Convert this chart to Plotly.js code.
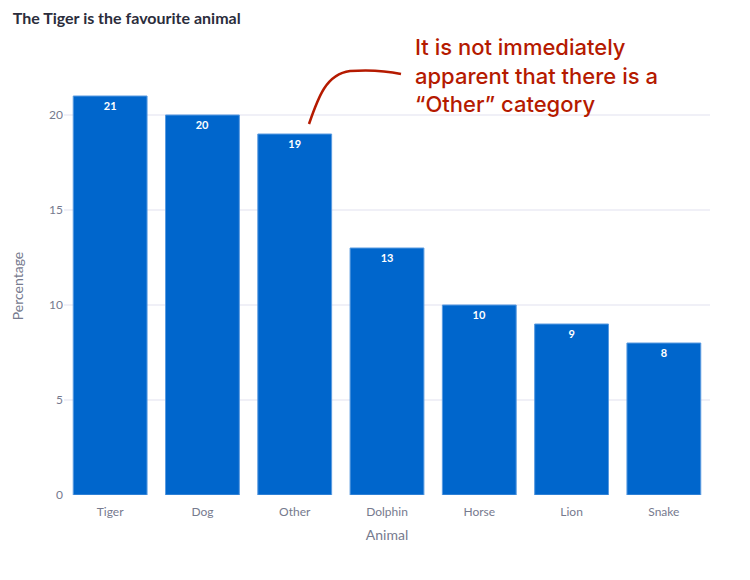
<!DOCTYPE html>
<html>
<head>
<meta charset="utf-8">
<script src="https://cdn.plot.ly/plotly-3.0.1.min.js"></script>
<style>
  html, body { margin: 0; padding: 0; background: #ffffff; }
  #chart { width: 750px; height: 580px; }
</style>
</head>
<body>
<div id="chart"></div>
<script>
// values
var animals = ['Tiger', 'Dog', 'Other', 'Dolphin', 'Horse', 'Lion', 'Snake'];
var percentages = [21, 20, 19, 13, 10, 9, 8];
var yTicks = [0, 5, 10, 15, 20];

var tickColor = '#767a8e';
var uiFont = 'Lato, "Noto Sans", sans-serif';

var bars = {
	type: 'bar',
	x: animals,
	y: percentages,
	text: percentages.map(String),
	textposition: 'inside',
	insidetextanchor: 'end',
	textangle: 0,
	textfont: { family: uiFont, size: 11, color: '#ffffff', weight: 'bold' },
	marker: {
		color: '#0066cc',
		line: { color: '#5a9be0', width: 1 }
	},
	hoverinfo: 'none',
	showlegend: false
};

// hand-drawn style arrow from the note down to the "Other" bar
function px(x) { return (x - 64) / 646; }
function py(y) { return (495 - y) / 418; }
var arrowPath = 'M ' + px(309) + ',' + py(124) +
	' C ' + px(318) + ',' + py(98) + ' ' + px(326) + ',' + py(74) + ' ' + px(350) + ',' + py(71) +
	' Q ' + px(378) + ',' + py(69) + ' ' + px(401) + ',' + py(74);

var layout = {
	width: 750,
	height: 580,
	paper_bgcolor: '#ffffff',
	plot_bgcolor: '#ffffff',
	margin: { l: 64, r: 40, t: 77, b: 85 },
	bargap: 0.2,
	font: { family: uiFont, size: 12, color: tickColor },
	title: {
		text: '<b>The Tiger is the favourite animal</b>',
		font: { family: uiFont, size: 16, color: '#2b2d3c' },
		x: 0.017,
		xanchor: 'left',
		y: 0.969,
		yanchor: 'middle'
	},
	xaxis: {
		type: 'category',
		showgrid: false,
		zeroline: false,
		showline: false,
		ticks: 'outside',
		ticklen: 6,
		tickcolor: 'rgba(0,0,0,0)',
		tickfont: { family: uiFont, size: 12, color: tickColor },
		title: { text: 'Animal', font: { family: uiFont, size: 14, color: tickColor }, standoff: 11 }
	},
	yaxis: {
		range: [0, 22],
		tickvals: yTicks,
		gridcolor: '#f0f0f7',
		gridwidth: 1.5,
		zeroline: false,
		showline: false,
		ticks: '',
		tickfont: { family: uiFont, size: 12, color: tickColor },
		title: { text: 'Percentage', font: { family: uiFont, size: 14, color: tickColor }, standoff: 22 }
	},
	shapes: [{
		type: 'path',
		xref: 'paper',
		yref: 'paper',
		path: arrowPath,
		line: { color: '#b51a00', width: 2.5 }
	}],
	annotations: [{
		xref: 'paper',
		yref: 'paper',
		x: px(413),
		y: py(76),
		xanchor: 'left',
		yanchor: 'middle',
		align: 'left',
		showarrow: false,
		text: 'It is not immediately<br>apparent that there is a<br>\u201cOther\u201d category',
		font: { family: 'Inter, sans-serif', size: 22, color: '#b51a00', weight: 500 }
	}]
};

Plotly.newPlot('chart', [bars], layout, { displayModeBar: false, staticPlot: true });
</script>
</body>
</html>
